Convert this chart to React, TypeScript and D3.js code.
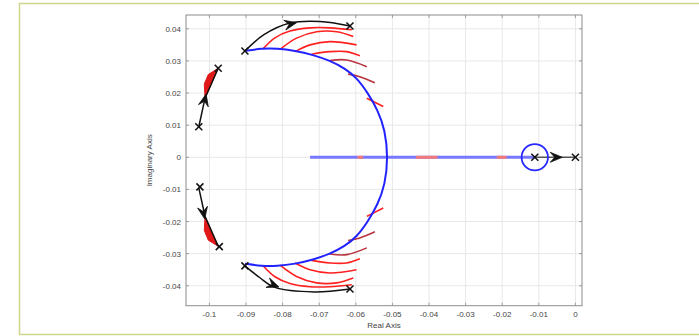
import * as d3 from 'd3'

type Pt = [number, number]

const X_TICKS = [-0.1, -0.09, -0.08, -0.07, -0.06, -0.05, -0.04, -0.03, -0.02, -0.01, 0]
const Y_TICKS = [-0.04, -0.03, -0.02, -0.01, 0, 0.01, 0.02, 0.03, 0.04]
const X_LABELS = ['-0.1', '-0.09', '-0.08', '-0.07', '-0.06', '-0.05', '-0.04', '-0.03', '-0.02', '-0.01', '0']
const Y_LABELS = ['-0.04', '-0.03', '-0.02', '-0.01', '0', '0.01', '0.02', '0.03', '0.04']

// upper half of the blue arc, from the pole at top-left to the real axis
const BLUE_ARC_UPPER: Pt[] = [
  [-0.0903, 0.0331], [-0.0857, 0.0339], [-0.0816, 0.0339], [-0.0766, 0.0332],
  [-0.0717, 0.0319], [-0.0671, 0.0301], [-0.063, 0.0277], [-0.0597, 0.0247],
  [-0.0567, 0.02], [-0.054, 0.0147], [-0.052, 0.0085], [-0.0512, 0],
]

// black locus (pole -> pole), upper and lower branch
const BLACK_ARC_UPPER: Pt[] = [
  [-0.0903, 0.0331], [-0.0852, 0.0381], [-0.078, 0.0418], [-0.0698, 0.0423], [-0.0616, 0.0409],
]
const BLACK_ARC_LOWER: Pt[] = [
  [-0.0903, -0.0338], [-0.0862, -0.0375], [-0.0821, -0.0405], [-0.0714, -0.0419], [-0.0616, -0.041],
]

// red arcs, upper half (conjugates are drawn below the axis)
const RED_ARCS: Pt[][] = [
  [[-0.0854, 0.0337], [-0.0821, 0.0372], [-0.078, 0.0393], [-0.0725, 0.0403], [-0.0671, 0.0403], [-0.0611, 0.0397]],
  [[-0.0807, 0.0336], [-0.0762, 0.0371], [-0.0707, 0.0391], [-0.0652, 0.0391], [-0.0607, 0.0376]],
  [[-0.0766, 0.0329], [-0.0725, 0.035], [-0.0671, 0.036], [-0.0598, 0.035]],
  [[-0.0721, 0.0321], [-0.0671, 0.0329], [-0.0625, 0.0329], [-0.0589, 0.0316]],
  [[-0.0671, 0.0301], [-0.0625, 0.0303], [-0.057, 0.0282]],
  [[-0.0621, 0.0259], [-0.0589, 0.0251], [-0.0548, 0.0232]],
  [[-0.057, 0.0184], [-0.0525, 0.0158]],
]
const RED_ARC_COLORS = ['#ff2020', '#ff2020', '#ff2020', '#ff2020', '#b8343e', '#b8343e', '#ff2020']

// left branch (upper), pole to pole, and the red sliver next to it
const LEFT_BRANCH: Pt[] = [[-0.1029, 0.0095], [-0.1012, 0.0184], [-0.0976, 0.0277]]
const LEFT_SLIVER: Pt[] = [[-0.1012, 0.0184], [-0.1014, 0.0228], [-0.1003, 0.0258], [-0.0976, 0.0277]]

// real-axis locus
const REAL_LOCUS: Pt[] = [[-0.0725, 0], [-0.0111, 0]]
const RED_SEGMENTS: Pt[] = [[-0.0596, -0.058], [-0.0436, -0.0377], [-0.0215, -0.0188]]
const SMALL_CIRCLE = { cx: -0.0111, cy: 0, r: 0.0036 }
const RIGHT_BRANCH: Pt[] = [[-0.0111, 0], [0, 0]]

// arrows: [from, tip]
const ARROWS: [Pt, Pt][] = [
  [[-0.0812, 0.0407], [-0.0762, 0.0419]],
  [[-0.0858, -0.0383], [-0.081, -0.0404]],
  [[-0.1021, 0.0138], [-0.1009, 0.0197]],
  [[-0.1022, -0.0135], [-0.1013, -0.0192]],
  [[-0.0111, 0], [-0.0036, 0]],
]

const POLES: Pt[] = [
  [-0.0903, 0.0331], [-0.0903, -0.0338], [-0.0616, 0.0409], [-0.0616, -0.041],
  [-0.1029, 0.0095], [-0.0976, 0.0277], [-0.1026, -0.0092], [-0.0973, -0.0278],
  [-0.0111, 0], [0, 0],
]

const conj = (pts: Pt[]): Pt[] => pts.map(([a, b]) => [a, -b] as Pt)

const W = 699
const H = 336
const P = { left: 186, top: 15, right: 582, bottom: 305.7 }

export default function App() {
  const x = d3.scaleLinear().domain([-0.1064, 0.0018]).range([P.left, P.right])
  const y = d3.scaleLinear().domain([-0.0462, 0.0443]).range([P.bottom, P.top])

  const smooth = d3.line<Pt>().x(d => x(d[0])).y(d => y(d[1])).curve(d3.curveCatmullRom.alpha(0.5))
  const basis = d3.line<Pt>().x(d => x(d[0])).y(d => y(d[1])).curve(d3.curveBasis)
  const straight = d3.line<Pt>().x(d => x(d[0])).y(d => y(d[1]))

  const blueArc = [...BLUE_ARC_UPPER, ...conj(BLUE_ARC_UPPER).reverse().slice(1)]

  const arrowPath = (from: Pt, tip: Pt) => {
    const tx = x(tip[0]), ty = y(tip[1])
    const a = Math.atan2(ty - y(from[1]), tx - x(from[0]))
    const L = 12, Wd = 5, notch = 7.5
    const ux = Math.cos(a), uy = Math.sin(a)
    const nx = -uy, ny = ux
    const bx = tx - ux * L, by = ty - uy * L
    const mx = tx - ux * notch, my = ty - uy * notch
    return `M${tx},${ty}L${bx + nx * Wd},${by + ny * Wd}L${mx},${my}L${bx - nx * Wd},${by - ny * Wd}Z`
  }

  const font = '"Liberation Sans", Arial, sans-serif'

  return (
    <svg width={W} height={H} style={{ position: 'absolute', left: 0, top: 0, background: '#fff' }}>
      {/* outer frame */}
      <rect x={19.5} y={3.5} width={W} height={331} fill="none" stroke="#cdd68c" strokeWidth={1.5} />

      {/* grid */}
      <g stroke="#e8e8e8" strokeWidth={1}>
        {X_TICKS.map(t => <line key={'gx' + t} x1={x(t)} x2={x(t)} y1={P.top} y2={P.bottom} />)}
        {Y_TICKS.map(t => <line key={'gy' + t} x1={P.left} x2={P.right} y1={y(t)} y2={y(t)} />)}
      </g>

      {/* ticks on all four sides */}
      <g stroke="#8c8c8c" strokeWidth={0.8}>
        {X_TICKS.map(t => (
          <g key={'tx' + t}>
            <line x1={x(t)} x2={x(t)} y1={P.bottom} y2={P.bottom - 3} />
            <line x1={x(t)} x2={x(t)} y1={P.top} y2={P.top + 3} />
          </g>
        ))}
        {Y_TICKS.map(t => (
          <g key={'ty' + t}>
            <line x1={P.left} x2={P.left + 3} y1={y(t)} y2={y(t)} />
            <line x1={P.right} x2={P.right - 3} y1={y(t)} y2={y(t)} />
          </g>
        ))}
      </g>
      <rect x={P.left} y={P.top} width={P.right - P.left} height={P.bottom - P.top} fill="none" stroke="#8c8c8c" strokeWidth={1} />

      {/* tick labels */}
      <g fontFamily={font} fontSize={8} fill="#444">
        {X_TICKS.map((t, i) => (
          <text key={'lx' + t} x={x(t)} y={P.bottom + 11} textAnchor="middle">{X_LABELS[i]}</text>
        ))}
        {Y_TICKS.map((t, i) => (
          <text key={'ly' + t} x={P.left - 5} y={y(t) + 3} textAnchor="end">{Y_LABELS[i]}</text>
        ))}
        <text x={(P.left + P.right) / 2} y={P.bottom + 22} textAnchor="middle">Real Axis</text>
        <text transform={`translate(152,${(P.top + P.bottom) / 2}) rotate(-90)`} textAnchor="middle">Imaginary Axis</text>
      </g>

      {/* real axis locus */}
      <path d={straight(REAL_LOCUS) ?? ''} stroke="#7878ff" strokeWidth={3} fill="none" />
      {RED_SEGMENTS.map((s, i) => (
        <line key={'rs' + i} x1={x(s[0])} x2={x(s[1])} y1={y(0)} y2={y(0)} stroke="#f07a7a" strokeWidth={3} />
      ))}
      <path d={straight(RIGHT_BRANCH) ?? ''} stroke="#555" strokeWidth={1.5} fill="none" />
      <ellipse cx={x(SMALL_CIRCLE.cx)} cy={y(SMALL_CIRCLE.cy)} rx={x(SMALL_CIRCLE.r) - x(0)} ry={x(SMALL_CIRCLE.r) - x(0)}
        fill="none" stroke="#2828ff" strokeWidth={1.8} />

      {/* red arcs */}
      {RED_ARCS.map((arc, i) => (
        <g key={'ra' + i} stroke={RED_ARC_COLORS[i]} strokeWidth={1.6} fill="none">
          <path d={smooth(arc) ?? ''} />
          <path d={smooth(conj(arc)) ?? ''} />
        </g>
      ))}

      {/* blue arc */}
      <path d={basis(blueArc) ?? ''} stroke="#2222ff" strokeWidth={2} fill="none" />

      {/* black arcs */}
      <path d={smooth(BLACK_ARC_UPPER) ?? ''} stroke="#111" strokeWidth={1.5} fill="none" />
      <path d={smooth(BLACK_ARC_LOWER) ?? ''} stroke="#111" strokeWidth={1.5} fill="none" />

      {/* left branches */}
      <path d={(straight(LEFT_SLIVER) ?? '') + 'Z'} fill="#e01818" stroke="#e01818" strokeWidth={1} strokeLinejoin="round" />
      <path d={(straight(conj(LEFT_SLIVER)) ?? '') + 'Z'} fill="#e01818" stroke="#e01818" strokeWidth={1} strokeLinejoin="round" />
      <path d={straight(LEFT_BRANCH) ?? ''} stroke="#111" strokeWidth={1.5} fill="none" />
      <path d={straight(conj(LEFT_BRANCH)) ?? ''} stroke="#111" strokeWidth={1.5} fill="none" />

      {/* arrows */}
      {ARROWS.map((a, i) => (
        <path key={'ar' + i} d={arrowPath(a[0], a[1])} fill="#111" stroke="#111" strokeWidth={0.8} strokeLinejoin="round" />
      ))}

      {/* poles */}
      <g stroke="#111" strokeWidth={1.5}>
        {POLES.map((p, i) => {
          const cx = x(p[0]), cy = y(p[1]), s = 3.5
          return (
            <g key={'p' + i}>
              <line x1={cx - s} x2={cx + s} y1={cy - s} y2={cy + s} />
              <line x1={cx - s} x2={cx + s} y1={cy + s} y2={cy - s} />
            </g>
          )
        })}
      </g>
    </svg>
  )
}
